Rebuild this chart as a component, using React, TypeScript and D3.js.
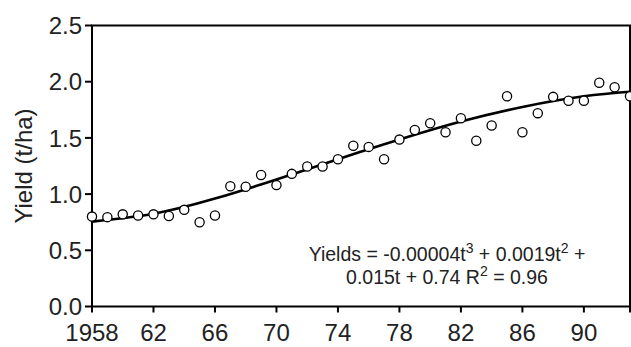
import React from "react";
import * as d3 from "d3";

const years = [
  1958, 1959, 1960, 1961, 1962, 1963, 1964, 1965, 1966, 1967, 1968, 1969,
  1970, 1971, 1972, 1973, 1974, 1975, 1976, 1977, 1978, 1979, 1980, 1981,
  1982, 1983, 1984, 1985, 1986, 1987, 1988, 1989, 1990, 1991, 1992, 1993,
];
const yields = [
  0.8, 0.795, 0.82, 0.81, 0.82, 0.805, 0.86, 0.75, 0.81, 1.07, 1.065, 1.17,
  1.08, 1.18, 1.245, 1.245, 1.31, 1.43, 1.42, 1.31, 1.485, 1.57, 1.63, 1.55,
  1.675, 1.475, 1.61, 1.87, 1.55, 1.72, 1.865, 1.83, 1.83, 1.99, 1.95, 1.87,
];
const trendYears = [1958, 1962, 1966, 1970, 1974, 1978, 1982, 1986, 1990, 1993];
const trendValues = [0.755, 0.825, 0.96, 1.13, 1.31, 1.485, 1.645, 1.775, 1.87, 1.91];

const xTicks = [1958, 1962, 1966, 1970, 1974, 1978, 1982, 1986, 1990, 1993];
const xTickLabels = ["1958", "62", "66", "70", "74", "78", "82", "86", "90", ""];
const yTicks = [0, 0.5, 1.0, 1.5, 2.0, 2.5];

const yLabel = "Yield (t/ha)";

const W = 631;
const H = 347;
const left = 92;
const right = 630;
const top = 25.5;
const bottom = 306.5;
const font = "'Liberation Sans', Arial, sans-serif";
const textColor = "#222";

export default function App() {
  const x = d3.scaleLinear().domain([1958, 1993]).range([left, right]);
  const y = d3.scaleLinear().domain([0, 2.5]).range([bottom, top]);

  const trendLine = d3
    .line<number>()
    .x((_, i) => x(trendYears[i]))
    .y((v) => y(v))
    .curve(d3.curveNatural)(trendValues);

  return (
    <svg
      width={W}
      height={H}
      style={{ position: "fixed", left: 0, top: 0, background: "#fff" }}
      fontFamily={font}
    >
      {/* frame */}
      <rect
        x={left}
        y={top}
        width={right - left}
        height={bottom - top}
        fill="none"
        stroke="#000"
        strokeWidth={2}
      />
      {/* y ticks */}
      {yTicks.map((t) => (
        <g key={"y" + t}>
          <line x1={left - 7} x2={left} y1={y(t)} y2={y(t)} stroke="#000" strokeWidth={2} />
          <text
            x={left - 10}
            y={y(t)}
            dy="0.36em"
            textAnchor="end"
            fontSize={24}
            fill={textColor}
          >
            {d3.format(".1f")(t)}
          </text>
        </g>
      ))}
      {/* x ticks */}
      {xTicks.map((t, i) => (
        <g key={"x" + t}>
          <line x1={x(t)} x2={x(t)} y1={bottom} y2={bottom + 6} stroke="#000" strokeWidth={2} />
          <text x={x(t)} y={341} textAnchor="middle" fontSize={24} fill={textColor}>
            {xTickLabels[i]}
          </text>
        </g>
      ))}
      {/* y label */}
      <text
        transform={`translate(32,${(top + bottom) / 2}) rotate(-90)`}
        textAnchor="middle"
        fontSize={24}
        fill={textColor}
      >
        {yLabel}
      </text>
      {/* trend */}
      <path d={trendLine ?? ""} fill="none" stroke="#000" strokeWidth={2.6} />
      {/* points */}
      {years.map((yr, i) => (
        <circle
          key={yr}
          cx={x(yr)}
          cy={y(yields[i])}
          r={4.6}
          fill="#fff"
          stroke="#000"
          strokeWidth={1.3}
        />
      ))}
      {/* equation */}
      <text x={447} y={261} textAnchor="middle" fontSize={19.5} fill={textColor}>
        <tspan>Yields = -0.00004t</tspan>
        <tspan fontSize={14} dy={-8}>3</tspan>
        <tspan dy={8}> + 0.0019t</tspan>
        <tspan fontSize={14} dy={-8}>2</tspan>
        <tspan dy={8}> +</tspan>
      </text>
      <text x={447} y={284} textAnchor="middle" fontSize={19.5} fill={textColor}>
        <tspan>0.015t + 0.74 R</tspan>
        <tspan fontSize={14} dy={-8}>2</tspan>
        <tspan dy={8}> = 0.96</tspan>
      </text>
    </svg>
  );
}
